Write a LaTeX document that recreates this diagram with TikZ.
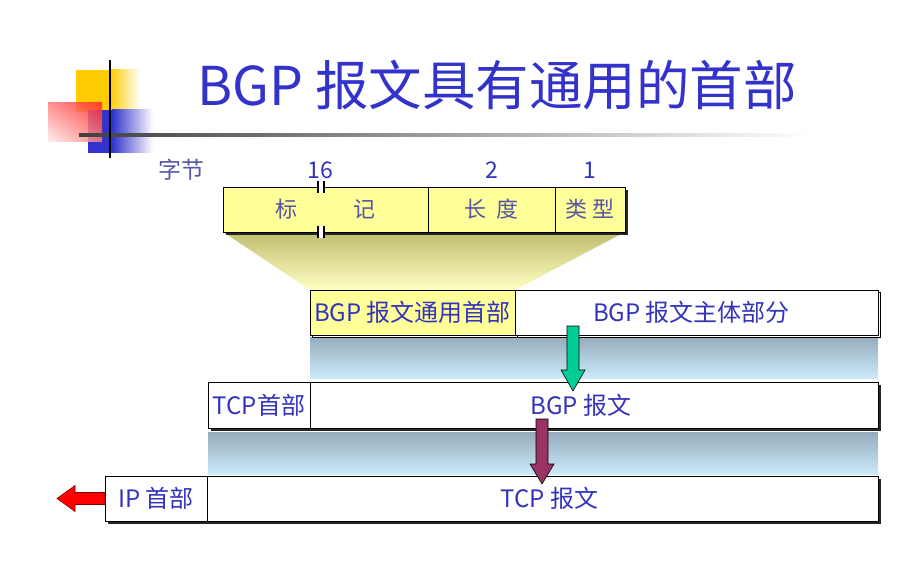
\documentclass[tikz,border=0pt]{standalone}
\usepackage{fontspec}
\setmainfont{Noto Sans CJK SC}
\usetikzlibrary{positioning,calc,shadows,shadings,backgrounds}

\definecolor{titleblue}{RGB}{51,51,204}
\definecolor{txtblue}{RGB}{51,51,187}
\definecolor{fieldtxt}{RGB}{85,85,165}
\definecolor{hdryellow}{RGB}{255,255,153}
\definecolor{funneltop}{RGB}{192,190,112}
\definecolor{funnelbot}{RGB}{255,255,195}
\definecolor{bandtop}{RGB}{150,172,188}
\definecolor{bandbot}{RGB}{204,234,250}
\definecolor{logoyellow}{RGB}{255,204,0}
\definecolor{logoblue}{RGB}{51,51,204}
\definecolor{logored}{RGB}{255,40,40}
\definecolor{arrowgreen}{RGB}{0,204,150}
\definecolor{arrowpurple}{RGB}{153,51,102}
\definecolor{arrowred}{RGB}{255,0,0}

\begin{document}
\begin{tikzpicture}[x=1pt,y=-1pt,
    cell/.style={draw=black, line width=0.8pt, inner sep=0pt, outer sep=0pt, anchor=north west,
        text=txtblue, font=\fontsize{24}{24}\selectfont},
    solidshadow/.style={drop shadow={shadow xshift=3pt, shadow yshift=-3pt, fill=black!85, opacity=1}},
    lineshadow/.style={general shadow={shadow xshift=2.5pt, shadow yshift=-2.5pt, draw=black, fill=white, line width=0.8pt}},
    numlabel/.style={text=txtblue, font=\fontsize{23}{23}\selectfont},
    blockarrow/.style={draw=black, line width=0.6pt, line join=miter},
  ]
    \useasboundingbox (0,0) rectangle (916,572);

    % Logo
    \fill[logoyellow] (76,70) rectangle (110,112);
    \shade[left color=logoyellow, right color=white] (110,70) rectangle (140,112);
    \fill[logoblue] (88,110) rectangle (112,153);
    \shade[left color=logoblue, right color=white] (112,110) rectangle (153,153);
    \shade[opacity=0.85, upper right=logored, upper left=logored!60, lower right=logored!60, lower left=logored!8]
        (48,103) rectangle (102,142);
    \shade[left color=black!75, right color=white] (79,133.5) rectangle (810,136.5);
    \draw[line width=2.5pt] (110,60) -- (110,158);

    % Title
    \node[text=titleblue, font=\fontsize{53.5}{53.5}\selectfont] (title) at (497,85) {BGP 报文具有通用的首部};

    % BGP header fields
    \node[text=fieldtxt, font=\fontsize{23}{23}\selectfont] (bytes) at (181,170) {字节};
    \node[cell, solidshadow, fill=hdryellow, minimum width=205pt, minimum height=45pt,
        text=fieldtxt, font=\fontsize{22}{22}\selectfont] (marker) at (223,187) {标\hspace{56pt}记};
    \node[cell, solidshadow, fill=hdryellow, minimum width=127pt, minimum height=45pt,
        text=fieldtxt, font=\fontsize{22}{22}\selectfont, right=0pt of marker] (length) {长\hspace{10pt}度};
    \node[cell, solidshadow, fill=hdryellow, minimum width=70pt, minimum height=45pt,
        text=fieldtxt, font=\fontsize{22}{22}\selectfont, right=0pt of length] (type) {类\hspace{6pt}型};
    \node[numlabel] (n16) at (320,170) {16};
    \node[numlabel] (n2) at (length.north |- n16) {2};
    \node[numlabel] (n1) at (type.north |- n16) {1};
    % break marks on the marker field
    \foreach \corner in {north west, south west} {
        \fill[white] ($(marker.\corner)+(96,-6)$) rectangle ++(4,12);
        \draw[line width=1.6pt] ($(marker.\corner)+(95,-6)$) -- ++(0,12)
            ($(marker.\corner)+(101,-6)$) -- ++(0,12);
    }

    % BGP message
    \node[cell, lineshadow, fill=hdryellow, minimum width=205pt, minimum height=45pt] (bgphdr) at (310,290) {BGP 报文通用首部};
    \node[cell, lineshadow, fill=white, minimum width=363pt, minimum height=45pt, right=0pt of bgphdr] (bgpbody) {\hspace*{-10pt}BGP 报文主体部分};

    % TCP segment
    \node[cell, solidshadow, fill=white, minimum width=102pt, minimum height=46pt] (tcphdr) at (208,382) {TCP首部};
    \node[cell, solidshadow, fill=white, minimum width=568pt, minimum height=46pt, right=0pt of tcphdr] (bgpmsg) {\hspace*{-26pt}BGP 报文};

    % IP packet
    \node[cell, solidshadow, fill=white, minimum width=102pt, minimum height=45pt] (iphdr) at (105,476) {IP 首部};
    \node[cell, solidshadow, fill=white, minimum width=671pt, minimum height=45pt, right=0pt of iphdr] (tcpmsg) {\hspace*{14pt}TCP 报文};

    \begin{scope}[on background layer]
        \shade[top color=funneltop, bottom color=funnelbot]
            (marker.south west) -- (type.south east) -- (bgpbody.north west) -- (bgphdr.north west) -- cycle;
        \shade[top color=bandtop, bottom color=bandbot]
            ($(bgphdr.south west)+(0,2)$) rectangle ($(bgpbody.south east)+(0,43)$);
        \shade[top color=bandtop, bottom color=bandbot]
            ($(tcphdr.south west)+(0,4)$) rectangle ($(bgpmsg.south east)+(0,46)$);
    \end{scope}

    % Arrows
    \coordinate (greentail) at ($(bgpbody.south west)+(58,-9)$);
    \coordinate (greentip) at ($(bgpmsg.north west)+(263,9)$);
    \draw[blockarrow, fill=arrowgreen] ($(greentail)+(-6,0)$) -- ($(greentail)+(6,0)$) -- ($(greentip)+(6,-21)$)
        -- ($(greentip)+(12,-21)$) -- (greentip) -- ($(greentip)+(-12,-21)$) -- ($(greentip)+(-6,-21)$) -- cycle;

    \coordinate (purpletail) at ($(bgpmsg.south west)+(232,-9)$);
    \coordinate (purpletip) at ($(tcpmsg.north west)+(335,8)$);
    \draw[blockarrow, fill=arrowpurple] ($(purpletail)+(-6,0)$) -- ($(purpletail)+(6,0)$) -- ($(purpletip)+(6,-20)$)
        -- ($(purpletip)+(12,-20)$) -- (purpletip) -- ($(purpletip)+(-12,-20)$) -- ($(purpletip)+(-6,-20)$) -- cycle;

    \coordinate (redtip) at ($(iphdr.west)+(-48,0)$);
    \draw[blockarrow, draw=red!50!black, fill=arrowred] ($(iphdr.west)+(0,-6)$) -- ($(redtip)+(18,-6)$) -- ($(redtip)+(18,-13)$)
        -- (redtip) -- ($(redtip)+(18,13)$) -- ($(redtip)+(18,6)$) -- ($(iphdr.west)+(0,6)$) -- cycle;
\end{tikzpicture}
\end{document}
